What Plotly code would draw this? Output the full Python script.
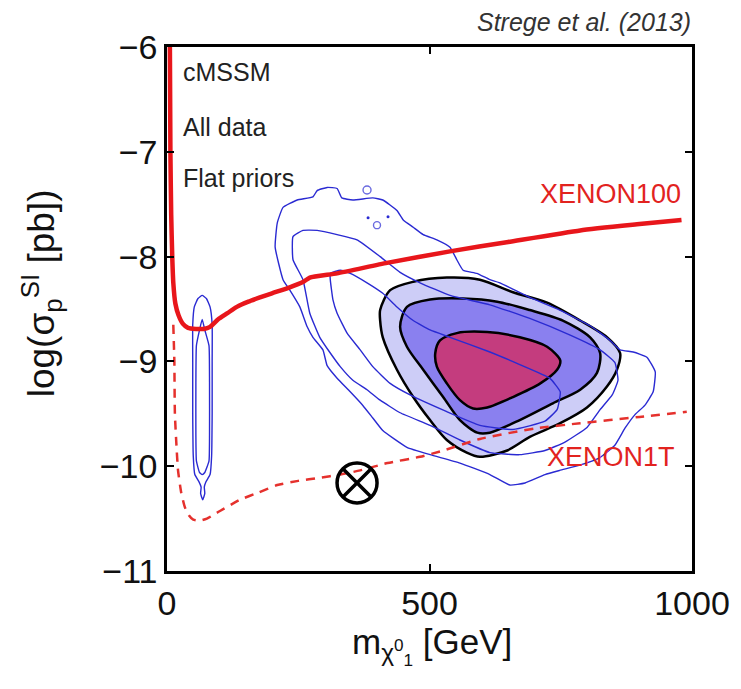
import plotly.graph_objects as go

# ---------------- data (x: neutralino mass [GeV], y: log10 sigma_SI [pb]) ----------------
xenon100_x = [5.5, 6.5, 8, 10, 12, 16, 22, 30, 40, 55, 70, 82, 97, 115, 133, 155, 177, 200, 230, 260, 272, 324, 419, 539, 650, 787, 900, 980]
xenon100_y = [-6.0, -7.0, -7.6, -8.0, -8.25, -8.45, -8.56, -8.64, -8.68, -8.69, -8.69, -8.67, -8.60, -8.54, -8.48, -8.43, -8.39, -8.35, -8.30, -8.24, -8.20, -8.16, -8.06, -7.95, -7.86, -7.75, -7.69, -7.65]

xenon1t_x = [12, 14, 15, 18, 21, 27, 34, 42, 50, 62, 76, 100, 139, 175, 210, 250, 291, 330, 368, 420, 482, 520, 596, 700, 787, 900, 990]
xenon1t_y = [-8.65, -9.0, -9.5, -9.8, -10.04, -10.25, -10.39, -10.47, -10.51, -10.52, -10.50, -10.43, -10.32, -10.25, -10.18, -10.14, -10.11, -10.08, -10.04, -9.97, -9.91, -9.86, -9.74, -9.64, -9.59, -9.53, -9.48]

# posterior credible regions (filled, closed polygons)
post95_x = [406, 425, 469, 533, 596, 659, 724, 787, 838, 863, 857, 838, 800, 749, 691, 648, 596, 571, 533, 501, 469, 438, 411, 406, 406]
post95_y = [-8.51, -8.32, -8.24, -8.20, -8.22, -8.34, -8.44, -8.61, -8.77, -8.92, -9.08, -9.24, -9.44, -9.59, -9.72, -9.85, -9.91, -9.87, -9.75, -9.56, -9.34, -9.08, -8.77, -8.61, -8.51]
post68_x = [444, 457, 501, 564, 629, 691, 754, 806, 825, 819, 787, 735, 672, 615, 591, 558, 526, 488, 457, 444]
post68_y = [-8.67, -8.48, -8.41, -8.40, -8.43, -8.51, -8.61, -8.77, -8.92, -9.11, -9.27, -9.40, -9.56, -9.68, -9.68, -9.56, -9.34, -9.08, -8.86, -8.67]
post1s_x = [511, 520, 552, 610, 672, 724, 749, 743, 711, 659, 610, 583, 558, 533, 514, 511]
post1s_y = [-8.92, -8.80, -8.73, -8.72, -8.77, -8.86, -8.99, -9.08, -9.21, -9.34, -9.44, -9.45, -9.37, -9.21, -9.05, -8.92]

# profile likelihood contours (blue lines)
pl_outer_x = [210, 221, 248, 278, 286, 305, 324, 333, 354, 392, 411, 438, 450, 469, 488, 514, 539, 552, 564, 590, 615, 634, 691, 748, 806, 844, 863, 888, 914, 930, 926, 910, 891, 872, 853, 824, 786, 748, 720, 682, 653, 615, 558, 501, 457, 411, 392, 373, 349, 324, 305, 297, 278, 267, 253, 234, 221, 206, 210]
pl_outer_y = [-7.68, -7.53, -7.46, -7.43, -7.37, -7.34, -7.35, -7.44, -7.46, -7.44, -7.46, -7.56, -7.65, -7.72, -7.79, -7.84, -7.91, -8.03, -8.13, -8.16, -8.22, -8.25, -8.39, -8.51, -8.66, -8.80, -8.89, -8.91, -8.96, -9.10, -9.29, -9.42, -9.51, -9.64, -9.80, -9.92, -9.99, -10.04, -10.08, -10.16, -10.18, -10.08, -9.97, -9.89, -9.82, -9.66, -9.54, -9.42, -9.29, -9.16, -9.04, -8.89, -8.77, -8.67, -8.48, -8.32, -8.22, -7.91, -7.68]
pl_mid_x = [240, 259, 286, 324, 362, 406, 444, 482, 539, 615, 691, 768, 825, 853, 859, 848, 825, 800, 758, 720, 672, 615, 558, 501, 444, 406, 381, 354, 330, 311, 291, 272, 259, 240, 240]
pl_mid_y = [-7.81, -7.75, -7.75, -7.79, -7.84, -8.00, -8.15, -8.25, -8.37, -8.46, -8.59, -8.75, -8.89, -9.01, -9.18, -9.32, -9.46, -9.63, -9.77, -9.85, -9.89, -9.87, -9.75, -9.61, -9.49, -9.37, -9.27, -9.18, -9.05, -8.92, -8.77, -8.54, -8.22, -8.03, -7.81]
pl_in_x = [311, 330, 349, 381, 411, 438, 469, 501, 539, 615, 672, 729, 749, 743, 720, 659, 596, 533, 463, 425, 392, 368, 343, 324, 316, 311, 311]
pl_in_y = [-8.16, -8.13, -8.16, -8.25, -8.35, -8.48, -8.61, -8.70, -8.77, -8.91, -9.03, -9.16, -9.29, -9.46, -9.57, -9.65, -9.61, -9.48, -9.32, -9.21, -9.05, -8.89, -8.73, -8.54, -8.41, -8.22, -8.16]

# h-funnel contours
fun_outer_x = [67, 75, 82, 86, 86, 86, 85, 82, 74, 71, 72, 68, 64, 65, 61, 53, 50, 49, 49, 49, 52, 59, 67]
fun_outer_y = [-8.37, -8.40, -8.48, -8.65, -9.0, -9.5, -9.9, -10.08, -10.15, -10.20, -10.26, -10.32, -10.26, -10.20, -10.15, -10.08, -9.9, -9.5, -9.0, -8.65, -8.48, -8.40, -8.37]
fun_in_x = [67, 72, 80, 81, 81, 80, 72, 67, 62, 56, 55, 55, 56, 62, 67]
fun_in_y = [-8.60, -8.70, -8.85, -9.2, -9.7, -9.95, -10.06, -10.08, -10.06, -9.95, -9.7, -9.2, -8.85, -8.70, -8.60]

# small likelihood islands
island_x = [381, 400]
island_y = [-7.365, -7.70]
speck_x = [383, 421]
speck_y = [-7.63, -7.62]

# benchmark point
bench_x = [362]
bench_y = [-10.16]

xticks = [0, 500, 1000]
yticks = [-6, -7, -8, -9, -10, -11]

FONT = "Liberation Sans, Arial, sans-serif"
BLUE = "#2a2ad2"

fig = go.Figure()

for xs, ys, col in [(post95_x, post95_y, "#cdcdf7"), (post68_x, post68_y, "#8a80ef"), (post1s_x, post1s_y, "#c43c7e")]:
    fig.add_trace(go.Scatter(x=xs, y=ys, mode="lines", fill="toself", fillcolor=col,
                             line=dict(color="black", width=2.5, shape="spline", smoothing=0.8),
                             hoverinfo="skip", showlegend=False))

for xs, ys in [(pl_outer_x, pl_outer_y), (pl_mid_x, pl_mid_y), (pl_in_x, pl_in_y),
               (fun_outer_x, fun_outer_y), (fun_in_x, fun_in_y)]:
    fig.add_trace(go.Scatter(x=xs, y=ys, mode="lines",
                             line=dict(color=BLUE, width=1.4, shape="spline", smoothing=0.4),
                             hoverinfo="skip", showlegend=False))

fig.add_trace(go.Scatter(x=island_x, y=island_y, mode="markers",
                         marker=dict(symbol="circle-open", size=[8, 7], color=BLUE, line=dict(width=1.4, color=BLUE)),
                         hoverinfo="skip", showlegend=False))
fig.add_trace(go.Scatter(x=speck_x, y=speck_y, mode="markers",
                         marker=dict(symbol="circle", size=3, color=BLUE),
                         hoverinfo="skip", showlegend=False))

fig.add_trace(go.Scatter(x=xenon1t_x, y=xenon1t_y, mode="lines",
                         line=dict(color="#e5312d", width=2.5, dash="9px,7px", shape="spline", smoothing=0.5),
                         hoverinfo="skip", showlegend=False))
fig.add_trace(go.Scatter(x=xenon100_x, y=xenon100_y, mode="lines",
                         line=dict(color="#e8161b", width=4.5, shape="spline", smoothing=0.5),
                         hoverinfo="skip", showlegend=False))

fig.add_trace(go.Scatter(x=bench_x, y=bench_y, mode="markers",
                         marker=dict(symbol="circle-x-open", size=40, color="black", line=dict(width=3.5, color="black")),
                         hoverinfo="skip", showlegend=False))

ann = []
for txt, yv in [("cMSSM", -6.24), ("All data", -6.76), ("Flat priors", -7.25)]:
    ann.append(dict(x=27, y=yv, xref="x", yref="y", text=txt, showarrow=False, xanchor="left", yanchor="middle",
                    font=dict(family=FONT, size=25, color="#222")))
ann.append(dict(x=982, y=-7.40, xref="x", yref="y", text="XENON100", showarrow=False, xanchor="right", yanchor="middle",
                font=dict(family=FONT, size=27, color="#e2231f")))
ann.append(dict(x=972, y=-9.91, xref="x", yref="y", text="XENON1T", showarrow=False, xanchor="right", yanchor="middle",
                font=dict(family=FONT, size=27, color="#e2231f")))
ann.append(dict(x=1.002, y=1.048, xref="paper", yref="paper", text="<i>Strege et al. (2013)</i>", showarrow=False,
                xanchor="right", yanchor="middle", font=dict(family=FONT, size=25, color="#333")))
ann.append(dict(x=-0.24, y=0.53, xref="paper", yref="paper", text="log(σ<sub>p</sub><sup>SI</sup> [pb])",
                showarrow=False, textangle=-90, xanchor="center", yanchor="middle",
                font=dict(family=FONT, size=37, color="#111")))
ann.append(dict(x=0.505, y=-0.093, xref="paper", yref="paper", text="m<sub>χ<sup>0</sup><sub>1</sub></sub> [GeV]",
                showarrow=False, xanchor="center", yanchor="top",
                font=dict(family=FONT, size=35, color="#111")))

axis_common = dict(showgrid=False, zeroline=False, showline=True, linecolor="black", linewidth=2.5,
                   mirror="ticks", ticks="inside", ticklen=7, tickwidth=2, tickcolor="black",
                   tickfont=dict(family=FONT, size=34, color="#111"))

fig.update_layout(
    width=741, height=689,
    margin=dict(l=167, r=49, t=47, b=118),
    paper_bgcolor="white", plot_bgcolor="white",
    xaxis=dict(range=[0, 1000], tickvals=xticks, **axis_common),
    yaxis=dict(range=[-11, -6], tickvals=yticks, ticklabelstandoff=0, **axis_common),
    annotations=ann,
    showlegend=False,
)

fig.write_html("out.html")
